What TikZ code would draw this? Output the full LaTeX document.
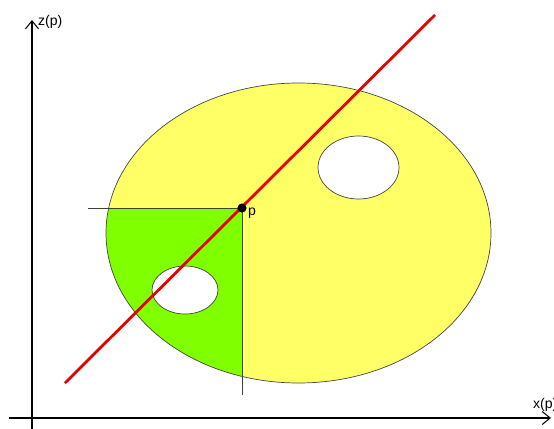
\documentclass[tikz,border=0pt]{standalone}
\usepackage{fontspec}
\setmainfont{Liberation Sans}
\usepackage{xcolor}
\definecolor{blobyellow}{RGB}{255,255,102}
\definecolor{blobgreen}{RGB}{128,255,0}
\definecolor{rayred}{RGB}{230,0,0}
\definecolor{edgegrey}{RGB}{70,70,70}
\usetikzlibrary{arrows.meta,positioning}
\tikzset{
  axis/.style={draw=black,semithick,-{Straight Barb[length=1.6mm,width=2.6mm]}},
  lab/.style={font=\fontsize{8}{9}\selectfont,inner sep=1pt},
  rim/.style={draw=edgegrey,thin},
  guide/.style={draw=black!75,thin},
  ray/.style={draw=rayred,line width=1.6pt},
  dot/.style={circle,fill=black,inner sep=0pt,minimum size=5pt},
}

\begin{document}
\begin{tikzpicture}[x=0.02cm,y=-0.02cm]
    \useasboundingbox (0,0) rectangle (554,429);
    % axes
    \coordinate (o1) at (32,429);
    \coordinate (zt) at (32,20);
    \coordinate (o2) at (9,418);
    \coordinate (xt) at (551,418);
    \draw[axis] (o1) -- (zt);
    \draw[axis] (o2) -- (xt);
    \node[lab,anchor=west] (zl) at (36,22) {z(p)};
    \node[lab,anchor=west] (xl) at (531,405) {x(p)};
    % body with two holes
    \fill[blobyellow,even odd rule] (298.5,233) ellipse [x radius=192.5, y radius=150]
      (358.5,167.5) ellipse [x radius=40.5, y radius=31.5]
      (185,290) ellipse [x radius=33, y radius=24];
    \begin{scope}
      \clip (100,208) rectangle (242,400);
      \fill[blobgreen,even odd rule] (298.5,233) ellipse [x radius=192.5, y radius=150]
        (185,290) ellipse [x radius=33, y radius=24];
    \end{scope}
    \draw[rim] (298.5,233) ellipse [x radius=192.5, y radius=150];
    \draw[rim] (358.5,167.5) ellipse [x radius=40.5, y radius=31.5];
    \draw[rim] (185,290) ellipse [x radius=33, y radius=24];
    % point p and its projections
    \node[dot] (p) at (242,208) {};
    \node[lab,anchor=north west] (pl) at (246,206) {p};
    \coordinate (pz) at (88,208);
    \coordinate (px) at (242,395);
    \draw[guide] (p.center) -- (pz);
    \draw[guide] (p.center) -- (px);
    % ray through p
    \coordinate (r1) at (65,383);
    \coordinate (r2) at (435,15);
    \draw[ray] (r1) -- (r2);
    \node[dot] at (p) {};
\end{tikzpicture}
\end{document}
